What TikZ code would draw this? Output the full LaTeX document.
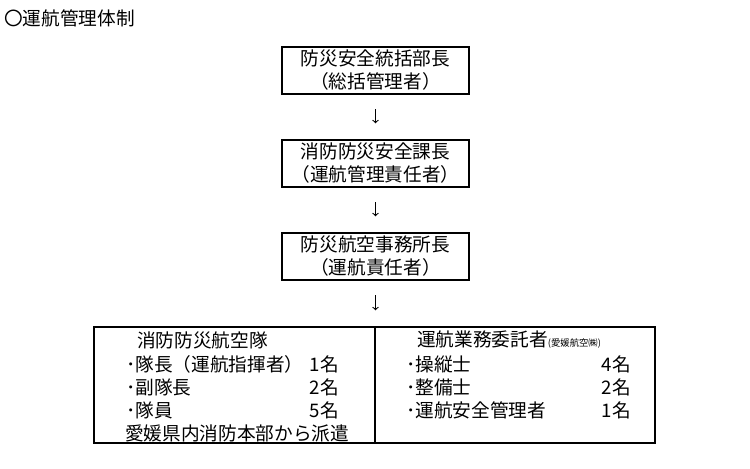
\documentclass[tikz,border=0pt]{standalone}
\usepackage{fontspec}
\setmainfont{Noto Sans CJK JP}
\usetikzlibrary{positioning}
\tikzset{
  box/.style={draw, line width=1pt, minimum width=140.25pt, minimum height=35.25pt, align=center,
    inner sep=0pt, font=\fontsize{14pt}{17.25pt}\selectfont},
  part/.style={draw, line width=1pt, minimum height=87pt, inner sep=0pt},
  txt/.style={inner sep=0pt, font=\fontsize{14pt}{17pt}\selectfont},
  down/.style={->, line width=0.8pt, shorten <=11pt, shorten >=12pt}
}
\begin{document}
\begin{tikzpicture}[x=0.75pt, y=-0.75pt]
        \useasboundingbox (0,0) rectangle (750,468);
        %タイトル
            \node[txt, anchor=west] (title) at (4,18) {〇運航管理体制};
        %管理者
        \node[box] (chief) at (375.5,70.5) {防災安全統括部長\\（総括管理者）};
        \node[box] (section) at (375.5,163.5) {消防防災安全課長\\（運航管理責任者）};
        \node[box] (office) at (375.5,256.5) {防災航空事務所長\\（運航責任者）};
        %実施体制
        \node[part, minimum width=210.75pt] (corps) at (234.5,385) {};
        \node[part, minimum width=210pt] (contract) at (515,385) {};
        \coordinate (joint) at (office.south |- corps.north);

        \draw[down] (chief) -- (section);
        \draw[down] (section) -- (office);
        \draw[down] (office.south) -- (joint);

        %消防防災航空隊
        \node[txt, anchor=west] (corpshead) at (137,340) {消防防災航空隊};
        \foreach \y/\t/\n in{
        364/･隊長（運航指揮者）/1名, 387/･副隊長/2名, 410/･隊員/5名
        }{\node[txt, anchor=west] (cl\y) at (126,\y) {\t};
          \node[txt, anchor=east] (cn\y) at (339,\y) {\n};}
        \node[txt, anchor=west] (dispatch) at (125,433) {愛媛県内消防本部から派遣};
        %運航業務委託者
        \node[txt, anchor=west] (contracthead) at (417,340)
          {運航業務委託者{\fontsize{7pt}{8pt}\selectfont (愛媛航空㈱)}};
        \foreach \y/\t/\n in{
        364/･操縦士/4名, 387/･整備士/2名, 410/･運航安全管理者/1名
        }{\node[txt, anchor=west] (rl\y) at (406,\y) {\t};
          \node[txt, anchor=east] (rn\y) at (631,\y) {\n};}
        \end{tikzpicture}
\end{document}
